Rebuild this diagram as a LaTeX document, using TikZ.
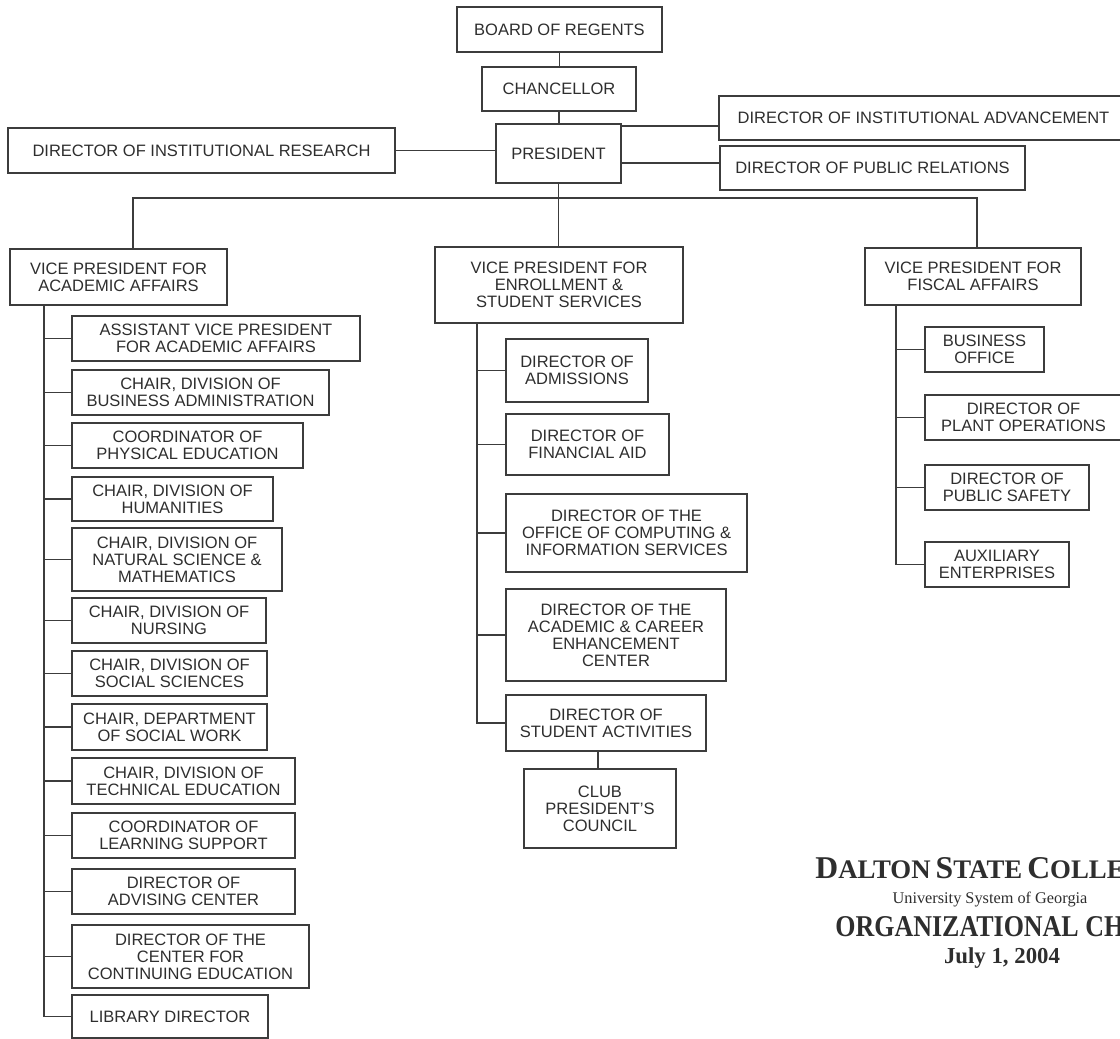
\documentclass[tikz,border=0pt]{standalone}
\usepackage{fontspec}
\setmainfont{Liberation Sans}
\newfontfamily\ttlfont{Liberation Serif}
\newfontfamily\ttlnarrow[FakeStretch=0.86]{Liberation Serif}
\definecolor{ink}{HTML}{2E2E2E}
\definecolor{rule}{HTML}{3C3C3C}
\newcommand{\capsword}[2]{{\fontsize{15.85}{16}\selectfont #1}{\fontsize{13.4}{14}\selectfont #2}}
\tikzset{
  unit/.style={draw=rule, line width=0.9pt, text=ink, align=center, inner sep=0pt, font=\fontsize{8.25}{8.5}\selectfont},
  boxsize/.style 2 args={minimum width=#1*0.5pt, minimum height=#2*0.5pt},
  link/.style={draw=rule, line width=0.8pt}
}

\begin{document}
\begin{tikzpicture}[x=0.5pt,y=-0.5pt]
\useasboundingbox (0,0) rectangle (1120,1039);
\fill[white] (0,0) rectangle (1120,1039);
\clip (0,0) rectangle (1120,1039);

\node[unit, boxsize={205}{45}] (board) at (559.5,29.5) {BOARD OF REGENTS};
\node[unit, boxsize={154}{44}] (chancellor) at (559,89) {CHANCELLOR};
\node[unit, boxsize={125}{59}] (president) at (558.5,153.5) {PRESIDENT};
\node[unit, boxsize={387}{45}] (research) at (201.5,150.5) {DIRECTOR OF INSTITUTIONAL RESEARCH};
\node[unit, boxsize={409}{44}] (advancement) at (923.5,118) {DIRECTOR OF INSTITUTIONAL ADVANCEMENT};
\node[unit, boxsize={305}{44}] (relations) at (872.5,168) {DIRECTOR OF PUBLIC RELATIONS};

\draw[link] (board.south) -- (board.south |- chancellor.north); \draw[link] (chancellor.south) -- (chancellor.south |- president.north);
\draw[link] (research.east) -- (research.east -| president.west);
\draw[link] ([yshift=-1.5pt]president.north east) -- ([yshift=-1.5pt]president.north east -| advancement.west);
\draw[link] ([yshift=2.5pt]relations.west) -- ([yshift=2.5pt]relations.west -| president.east);

\node[unit, boxsize={217}{56}] (vpacad) at (118.5,277) {VICE PRESIDENT FOR\\ACADEMIC AFFAIRS};
\node[unit, boxsize={248}{76}] (vpenroll) at (559,285) {VICE PRESIDENT FOR\\ENROLLMENT \&\\STUDENT SERVICES};
\node[unit, boxsize={216}{57}] (vpfiscal) at (973,276.5) {VICE PRESIDENT FOR\\FISCAL AFFAIRS};

\coordinate (busL) at (133,198); \coordinate (busR) at (977,198);
\draw[link] (president.south) -- (president.south |- vpenroll.north);
\draw[link] (busL |- vpacad.north) -- (busL) -- (busR) -- (busR |- vpfiscal.north);

\node[unit, boxsize={288}{45}] (a1) at (216,338.5) {ASSISTANT VICE PRESIDENT\\FOR ACADEMIC AFFAIRS};
\node[unit, boxsize={257}{45}] (a2) at (200.5,392.5) {CHAIR, DIVISION OF\\BUSINESS ADMINISTRATION};
\node[unit, boxsize={231}{45}] (a3) at (187.5,445.5) {COORDINATOR OF\\PHYSICAL EDUCATION};
\node[unit, boxsize={201}{44}] (a4) at (172.5,499) {CHAIR, DIVISION OF\\HUMANITIES};
\node[unit, boxsize={210}{63}] (a5) at (177,559.5) {CHAIR, DIVISION OF\\NATURAL SCIENCE \&\\MATHEMATICS};
\node[unit, boxsize={194}{45}] (a6) at (169,620.5) {CHAIR, DIVISION OF\\NURSING};
\node[unit, boxsize={195}{45}] (a7) at (169.5,673.5) {CHAIR, DIVISION OF\\SOCIAL SCIENCES};
\node[unit, boxsize={195}{46}] (a8) at (169.5,727) {CHAIR, DEPARTMENT\\OF SOCIAL WORK};
\node[unit, boxsize={223}{46}] (a9) at (183.5,781) {CHAIR, DIVISION OF\\TECHNICAL EDUCATION};
\node[unit, boxsize={223}{45}] (a10) at (183.5,835.5) {COORDINATOR OF\\LEARNING SUPPORT};
\node[unit, boxsize={223}{45}] (a11) at (183.5,891.5) {DIRECTOR OF\\ADVISING CENTER};
\node[unit, boxsize={237}{63}] (a12) at (190.5,956.5) {DIRECTOR OF THE\\CENTER FOR\\CONTINUING EDUCATION};
\node[unit, boxsize={196}{43}] (a13) at (170,1016.5) {LIBRARY DIRECTOR};
\coordinate (acadtop) at (44,305);
\draw[link] (acadtop) |- (a13.west);
\foreach \n in {1,...,12} { \draw[link] (acadtop |- a\n.west) -- (a\n.west); }

\node[unit, boxsize={142}{63}] (e1) at (577,370.5) {DIRECTOR OF\\ADMISSIONS};
\node[unit, boxsize={163}{61}] (e2) at (587.5,444.5) {DIRECTOR OF\\FINANCIAL AID};
\node[unit, boxsize={241}{78}] (e3) at (626.5,533) {DIRECTOR OF THE\\OFFICE OF COMPUTING \&\\INFORMATION SERVICES};
\node[unit, boxsize={220}{92}] (e4) at (616,635) {DIRECTOR OF THE\\ACADEMIC \& CAREER\\ENHANCEMENT\\CENTER};
\node[unit, boxsize={200}{56}] (e5) at (606,723) {DIRECTOR OF\\STUDENT ACTIVITIES};
\node[unit, boxsize={152}{79}] (e6) at (600,808.5) {CLUB\\PRESIDENT'S\\COUNCIL};
\coordinate (enrtop) at (477,323);
\draw[link] (enrtop) |- (e5.west);
\foreach \n in {1,...,4} { \draw[link] (enrtop |- e\n.west) -- (e\n.west); }
\draw[link] ([xshift=-1pt]e6.north) -- ([xshift=-1pt]e6.north |- e5.south);

\node[unit, boxsize={119}{45}] (f1) at (984.5,349.5) {BUSINESS\\OFFICE};
\node[unit, boxsize={197}{45}] (f2) at (1023.5,417.5) {DIRECTOR OF\\PLANT OPERATIONS};
\node[unit, boxsize={164}{45}] (f3) at (1007,487.5) {DIRECTOR OF\\PUBLIC SAFETY};
\node[unit, boxsize={144}{45}] (f4) at (997,564.5) {AUXILIARY\\ENTERPRISES};
\coordinate (fistop) at (896,305);
\draw[link] (fistop) |- (f4.west);
\foreach \n in {1,...,3} { \draw[link] (fistop |- f\n.west) -- (f\n.west); }

\node[anchor=base west, text=ink, inner sep=0pt, font=\ttlfont\bfseries] (college) at (815,878) {\capsword{D}{ALTON} \capsword{S}{TATE} \capsword{C}{OLLEGE}};
\node[anchor=base, text=ink, inner sep=0pt, font=\ttlfont\fontsize{8.15}{9}\selectfont] (system) at (990,903) {University System of Georgia};
\node[anchor=base west, text=ink, inner sep=0pt, font=\ttlnarrow\bfseries\fontsize{15.1}{16}\selectfont] (chart) at (835,936) {ORGANIZATIONAL CHART};
\node[anchor=base, text=ink, inner sep=0pt, font=\ttlfont\bfseries\fontsize{11.4}{12}\selectfont] (date) at (1002,963) {July 1, 2004};
\end{tikzpicture}
\end{document}
